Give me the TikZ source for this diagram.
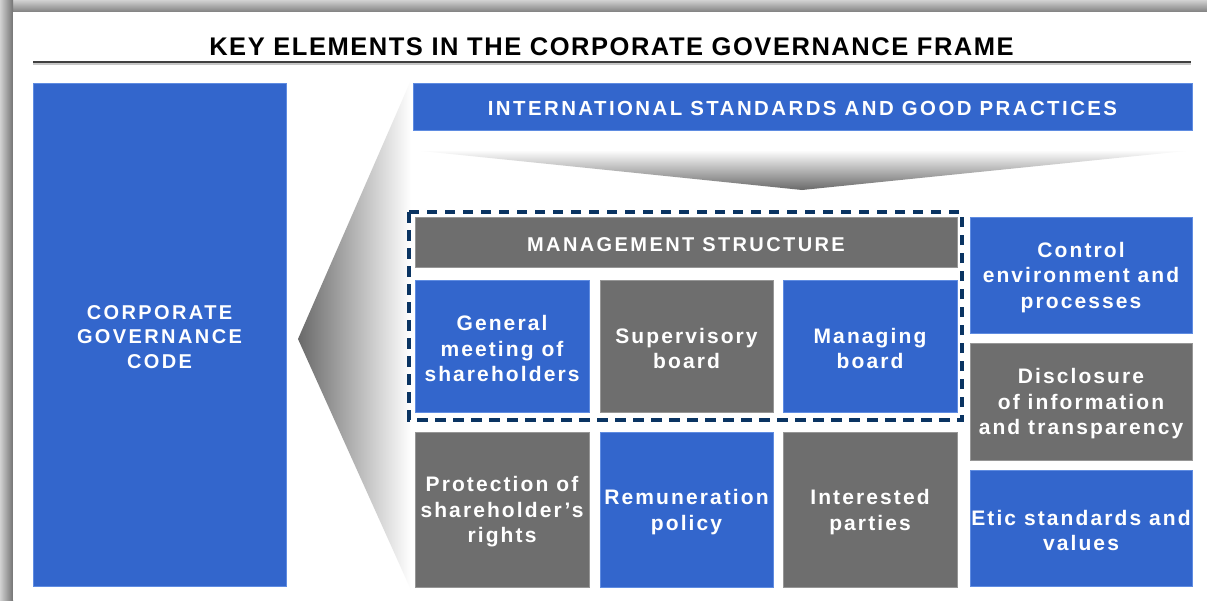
\documentclass[tikz,border=0pt]{standalone}
\usepackage{fontspec}
\setmainfont{Liberation Sans}
\newfontfamily\titlefont{Liberation Sans}[LetterSpace=6]
\newfontfamily\capsfont{Liberation Sans}[LetterSpace=12]
\newfontfamily\boxfont{Liberation Sans}[LetterSpace=10]
\newfontfamily\bannerfont{Liberation Sans}[LetterSpace=12]
\definecolor{cblue}{RGB}{51,102,204}
\definecolor{cblueedge}{RGB}{95,140,225}
\definecolor{cgray}{RGB}{110,110,110}
\definecolor{cgrayedge}{RGB}{150,150,150}
\definecolor{cnavy}{RGB}{10,52,98}
\definecolor{cshade}{RGB}{105,105,105}
\tikzset{
  box/.style={inner sep=0pt, line width=0.8pt},
  bluebox/.style={box, fill=cblue, draw=cblueedge},
  graybox/.style={box, fill=cgray, draw=cgrayedge},
  capstext/.style={inner sep=0pt, align=center, text=white, yshift=-2.5pt,
    font=\capsfont\bfseries\fontsize{20}{24.5}\selectfont},
  mixtext/.style={inner sep=0pt, align=center, text=white, yshift=-2.5pt,
    font=\boxfont\bfseries\fontsize{21}{25.5}\selectfont},
  bannertext/.style={inner sep=0pt, align=center, text=white, yshift=-1.5pt,
    font=\bannerfont\bfseries\fontsize{20.4}{25}\selectfont},
}
\begin{document}
\begin{tikzpicture}[x=1pt,y=-1pt]
\useasboundingbox (0,0) rectangle (1207,600);
% frame shadow
\fill[white] (0,0) rectangle (1207,600);
\shade[top color=black!18, bottom color=black!50] (0,0) rectangle (1207,12);
\shade[left color=black!18, right color=black!55] (0,0) rectangle (13,600);
\fill[white] (13,12) rectangle (1207,600);
% title
\node[anchor=base, font=\titlefont\bfseries\fontsize{25.5}{30}\selectfont] (title) at (611.5,55) {KEY ELEMENTS IN THE CORPORATE GOVERNANCE FRAME};
\coordinate (ruleL) at (33,62);
\coordinate (ruleR) at (1191,62);
\draw[black!22, line width=1.5pt] ([yshift=-2pt]ruleL) -- ([yshift=-2pt]ruleR);
\draw[black!75, line width=1.6pt] (ruleL) -- (ruleR);
% shaded funnels
\shade[top color=white, bottom color=cshade] (412,150) -- (1195,150) -- (802,190) -- cycle;
\shade[left color=cshade, right color=white] (298,339) -- (411,80) -- (411,590) -- cycle;
% left box
\node[bluebox, minimum width=253pt, minimum height=503pt] (code) at (159.5,334.5) {};
\node[capstext] (code-t) at (code.center) {CORPORATE\\GOVERNANCE\\CODE};
% banner
\node[bluebox, minimum width=779pt, minimum height=47pt] (intl) at (802.5,106.5) {};
\node[bannertext] (intl-t) at (intl.center) {INTERNATIONAL STANDARDS AND GOOD PRACTICES};
% dashed frame
\draw[cnavy, line width=3.6pt, dash pattern=on 10.5pt off 7.5pt] (409,212) rectangle (962,420);
% management structure
\node[graybox, minimum width=542pt, minimum height=50pt] (mgmt) at (686,242) {};
\node[capstext] (mgmt-t) at (mgmt.center) {MANAGEMENT STRUCTURE};
\node[bluebox, minimum width=174pt, minimum height=132pt] (gm) at (502,346) {};
\node[mixtext] (gm-t) at (gm.center) {General\\meeting of\\shareholders};
\node[graybox, minimum width=173pt, minimum height=132pt] (sb) at (686.5,346) {};
\node[mixtext] (sb-t) at (sb.center) {Supervisory\\board};
\node[bluebox, minimum width=174pt, minimum height=132pt] (mb) at (870,346) {};
\node[mixtext] (mb-t) at (mb.center) {Managing\\board};
% bottom row
\node[graybox, minimum width=174pt, minimum height=155pt] (prot) at (502,509.5) {};
\node[mixtext] (prot-t) at (prot.center) {Protection of\\shareholder’s\\rights};
\node[bluebox, minimum width=173pt, minimum height=155pt] (rem) at (686.5,509.5) {};
\node[mixtext] (rem-t) at (rem.center) {Remuneration\\policy};
\node[graybox, minimum width=174pt, minimum height=155pt] (ip) at (870,509.5) {};
\node[mixtext] (ip-t) at (ip.center) {Interested\\parties};
% right column
\node[bluebox, minimum width=222pt, minimum height=116pt] (ctrl) at (1081,275) {};
\node[mixtext] (ctrl-t) at (ctrl.center) {Control\\environment and\\processes};
\node[graybox, minimum width=222pt, minimum height=117pt] (disc) at (1081,401.5) {};
\node[mixtext] (disc-t) at (disc.center) {Disclosure\\of information\\and transparency};
\node[bluebox, minimum width=222pt, minimum height=116pt] (etic) at (1081,528) {};
\node[mixtext] (etic-t) at (etic.center) {Etic standards and\\values};
\end{tikzpicture}
\end{document}
